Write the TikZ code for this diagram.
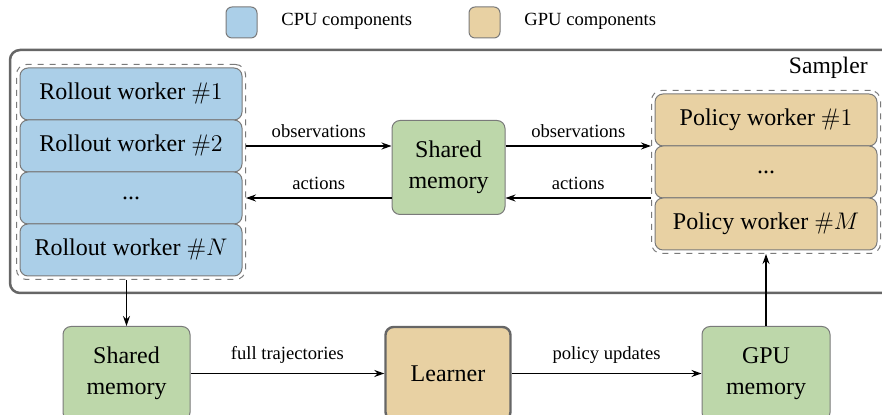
\documentclass[tikz,border=0pt]{standalone}
\usepackage[no-math]{fontspec}
\setmainfont{Liberation Serif}
\usetikzlibrary{arrows.meta,fit,positioning}
\definecolor{cpu}{HTML}{ABCFE8}
\definecolor{gpu}{HTML}{E8D1A3}
\definecolor{mem}{HTML}{BDD7AA}
\definecolor{edge}{HTML}{7A7A7A}
\definecolor{frame}{HTML}{666666}
\tikzset{
  box/.style={draw=edge, line width=0.5pt, rounded corners=4pt, align=center, inner sep=0pt,
    font=\fontsize{12}{15.5}\selectfont},
  worker/.style={box, minimum width=111pt, minimum height=26pt},
  membox/.style={box, fill=mem, minimum height=47pt},
  group/.style={draw=edge, dashed, line width=0.5pt, rounded corners=5pt, inner sep=1.5pt},
  arr/.style={-{Stealth[length=5pt,width=3.5pt]}, line width=0.6pt},
  lbl/.style={font=\fontsize{9.3}{11}\selectfont},
  legendsq/.style={draw=edge, line width=0.5pt, rounded corners=3pt, minimum size=15.5pt, inner sep=0pt}
}
\begin{document}
\begin{tikzpicture}[x=0.5pt,y=-0.5pt]
\useasboundingbox (0,0) rectangle (882,415);
% legend
\node[legendsq, fill=cpu] (lcpu) at (241.5,22.5) {};
\node[lbl, anchor=west, inner sep=0pt] (lcputxt) at (281,21) {CPU components};
\node[legendsq, fill=gpu] (lgpu) at (484.5,22.5) {};
\node[lbl, anchor=west, inner sep=0pt] (lgputxt) at (524,21) {GPU components};
% sampler frame
\draw[draw=frame, line width=1.25pt, rounded corners=5pt] (10,50) rectangle (900,293);
\node[anchor=east, font=\fontsize{11.8}{14}\selectfont, inner sep=0pt] (sampler) at (868,68) {Sampler};
% rollout workers
\node[worker, fill=cpu] (r1) at (131,94) {Rollout worker $\#1$};
\node[worker, fill=cpu] (r2) at (131,146) {Rollout worker $\#2$};
\node[worker, fill=cpu] (r3) at (131,198) {...};
\node[worker, fill=cpu] (r4) at (131,250) {Rollout worker $\#N$};
\node[group, fit=(r1)(r4)] (rg) {};
% policy workers
\node[worker, fill=gpu] (p1) at (766,120) {Policy worker $\#1$};
\node[worker, fill=gpu] (p2) at (766,172) {...};
\node[worker, fill=gpu] (p3) at (766,224) {Policy worker $\#M$};
\node[group, fit=(p1)(p3)] (pg) {};
% shared memory (sampler)
\node[membox, minimum width=56.5pt] (sm1) at (448.5,167.5) {Shared\\memory};
% bottom row
\node[membox, minimum width=63.5pt] (sm2) at (126.5,373.5) {Shared\\memory};
\node[box, fill=gpu, draw=frame, line width=1.2pt, minimum width=62.5pt, minimum height=46.5pt] (learner) at (448,373.5) {Learner};
\node[membox, minimum width=64pt] (gm) at (766,373.5) {GPU\\memory};
% sampler arrows
\draw[arr] (rg.east |- r2.center) -- node[lbl, above=0.5pt] (o1) {observations} (sm1.west |- r2.center);
\draw[arr] (sm1.west |- r3.center) -- node[lbl, above=0.5pt] (a1) {actions} (rg.east |- r3.center);
\draw[arr] (sm1.east |- r2.center) -- node[lbl, above=0.5pt] (o2) {observations} (pg.west |- r2.center);
\draw[arr] (pg.west |- r3.center) -- node[lbl, above=0.5pt] (a2) {actions} (sm1.east |- r3.center);
% vertical arrows
\draw[arr] (sm2.north |- rg.south) -- (sm2.north);
\draw[arr] (gm.north) -- (gm.north |- pg.south);
% bottom arrows
\draw[arr] (sm2.east) -- node[lbl, above=1.5pt] (ft) {full trajectories} (learner.west);
\draw[arr] (learner.east) -- node[lbl, above=1.5pt] (pu) {policy updates} (gm.west);
\end{tikzpicture}
\end{document}
